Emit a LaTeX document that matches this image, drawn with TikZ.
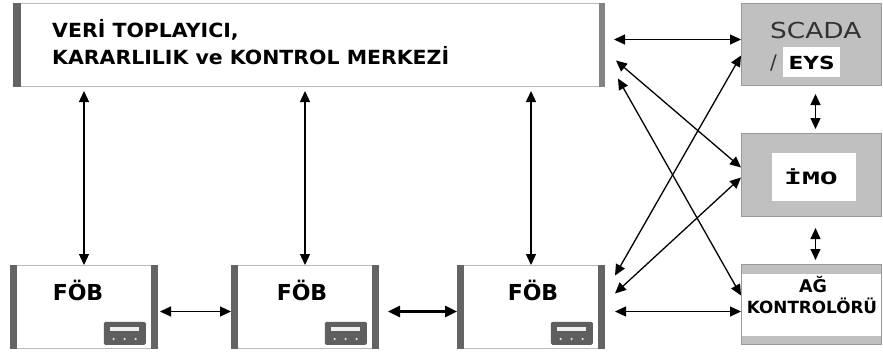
\documentclass[tikz,border=0pt]{standalone}
\usepackage{fontspec}
\setmainfont{DejaVu Sans}
\newfontfamily\topfont{DejaVu Sans}[FakeStretch=1.05]
\newfontfamily\widefont{DejaVu Sans}[FakeStretch=1.2]
\newfontfamily\termfont{DejaVu Sans Mono}[FakeStretch=1.75]
\usepackage{tikz}
\usetikzlibrary{arrows.meta}
\definecolor{barGray}{RGB}{100,100,100}
\definecolor{lineGray}{RGB}{185,185,185}
\definecolor{fillGray}{RGB}{192,192,192}
\definecolor{panelGray}{RGB}{95,95,95}
\definecolor{scadaText}{RGB}{50,50,50}

\begin{document}
\begin{tikzpicture}[x=1pt, y=-1pt,
	box/.style={draw=lineGray, line width=1pt, fill=white, inner sep=0, anchor=north west},
	grayBox/.style={box, draw=gray!80, fill=fillGray, minimum width=140pt},
	fobBox/.style={box, minimum width=147pt, minimum height=83pt},
	panel/.style={fill=panelGray, rounded corners=1.5pt, inner sep=0, minimum width=42pt, minimum height=23pt, anchor=south east},
	txt/.style={inner sep=0, anchor=base west},
	arr/.style={{Triangle[length=11pt,width=10pt]}-{Triangle[length=11pt,width=10pt]}, line width=1.3pt}]

	\useasboundingbox (0,0) rectangle (883,356);

	% Boxes and texts:
	\node[box, minimum width=591pt, minimum height=83pt] (merkez) at (13,3) {};
	\fill[barGray] (merkez.north west) rectangle ([xshift=8pt]merkez.south west);
	\fill[barGray!80] ([xshift=-6pt]merkez.north east) rectangle (merkez.south east);
	\node[txt, font=\topfont\bfseries\fontsize{19.5}{24}\selectfont] (merkezA) at (52,37) {VERİ TOPLAYICI,};
	\node[txt, font=\topfont\bfseries\fontsize{19.5}{24}\selectfont] (merkezB) at (52,64) {KARARLILIK ve KONTROL MERKEZİ};

	\node[grayBox, minimum height=82pt] (scada) at (741,3) {};
	\node[txt, text=scadaText, font=\widefont\fontsize{22}{26}\selectfont] (scadaA) at (770,38) {SCADA};
	\node[txt, text=scadaText, font=\fontsize{20}{24}\selectfont] (scadaB) at (770,69) {/};
	\node[txt, fill=white, inner xsep=5.5pt, text height=22pt, text depth=8pt, font=\widefont\bfseries\fontsize{18}{22}\selectfont] (eys) at (783,69) {EYS};

	\node[grayBox, minimum height=83pt] (imo) at (741,133) {};
	\node[box, draw=none, minimum width=84pt, minimum height=48pt] (imoIc) at (771,152) {};
	\node[inner sep=0, anchor=base, font=\termfont\bfseries\fontsize{17}{20}\selectfont] (imoT) at (811,184) {İMO};

	\node[box, draw=gray!80, minimum width=140pt, minimum height=80pt,
		path picture={\fill[fillGray] (path picture bounding box.north west) rectangle ([yshift=-9pt]path picture bounding box.north east);
			\fill[fillGray] ([yshift=9pt]path picture bounding box.south west) rectangle (path picture bounding box.south east);}] (ag) at (741,264) {};
	\node[txt, anchor=base, font=\bfseries\fontsize{17.5}{21}\selectfont] (agA) at (813,292) {AĞ};
	\node[txt, anchor=base, font=\bfseries\fontsize{16.8}{21}\selectfont] (agB) at (812,313) {KONTROLÖRÜ};

	\foreach \n/\x/\dx in {1/10/-6, 2/231/-3, 3/457/2} {
		\node[fobBox] (fob\n) at (\x,265) {};
		\fill[barGray] (fob\n.north west) rectangle ([xshift=7pt]fob\n.south west);
		\fill[barGray] ([xshift=-7pt]fob\n.north east) rectangle (fob\n.south east);
		\node[inner sep=0, anchor=base, font=\bfseries\fontsize{22}{26}\selectfont] (fobT\n) at ([xshift=\dx pt, yshift=6.5pt]fob\n.center) {FÖB};
		\node[panel] (panel\n) at ([xshift=-12pt, yshift=4pt]fob\n.south east) {};
		\fill[white!88!gray] ([xshift=6pt,yshift=-5pt]panel\n.north west) rectangle ([xshift=-7pt,yshift=-9pt]panel\n.north east);
		\foreach \px in {10,21,32}
			\fill[white!75!gray] ([xshift=\px pt,yshift=6pt]panel\n.south west) circle (1.3pt);
	}

	% Connectors:
	\foreach \n in {1,2,3}
		\draw[arr, shorten <=4pt] (fob\n.north |- merkez.south) -- (fob\n.north);
	\draw[arr] ([xshift=2pt,yshift=-4.5pt]fob1.east) -- ([yshift=-4.5pt]fob2.west);
	\draw[arr, line width=2.6pt, {Triangle[length=12pt,width=11pt]}-{Triangle[length=12pt,width=11pt]}] ([xshift=9pt,yshift=-4.5pt]fob2.east) -- ([yshift=-4.5pt]fob3.west);
	\draw[arr] ([xshift=9pt,yshift=5.5pt]merkez.east) -- ([yshift=5pt]scada.west);
	\draw[arr] ([yshift=-11pt]scada.west) -- ([xshift=10pt,yshift=31.5pt]fob3.east);
	\draw[arr] ([xshift=11pt,yshift=-15.5pt]merkez.east) -- ([yshift=7.5pt]imo.west);
	\draw[arr] ([xshift=13pt,yshift=-33.5pt]merkez.east) -- ([yshift=9pt]ag.west);
	\draw[arr] ([yshift=-2.5pt]imo.west) -- ([xshift=10pt,yshift=13.5pt]fob3.east);
	\draw[arr] ([xshift=10pt,yshift=-4.5pt]fob3.east) -- ([yshift=-7pt]ag.west);
	\draw[arr] ([xshift=4pt,yshift=-8pt]scada.south) -- ([xshift=4pt,yshift=4pt]imo.north);
	\draw[arr] ([xshift=4pt,yshift=-11pt]imo.south) -- ([xshift=4pt,yshift=4pt]ag.north);
\end{tikzpicture}
\end{document}
